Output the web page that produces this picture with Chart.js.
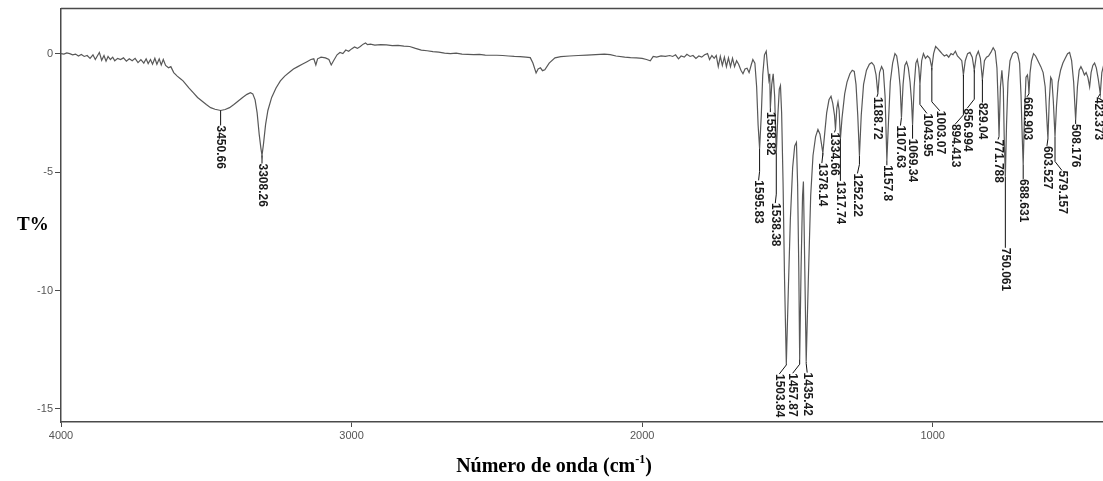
<!DOCTYPE html>
<html><head><meta charset="utf-8">
<script src="https://cdn.jsdelivr.net/npm/chart.js@4/dist/chart.umd.min.js"></script>
<style>html,body{margin:0;padding:0;background:#fff;overflow:hidden}canvas{display:block}</style>
</head><body>
<canvas id="c" width="1103" height="481"></canvas>
<script>
// ---- data ----
const wavenumbers = [
4000,3990,3980,3970,3960,3950,3940,3930,3920,3910,3900,3890,3882,3875,3868,3860,3852,3845,3838,3830,3822,3815,3805,3795,3785,3775,3765,3755,3745,3735,3725,3715,3707,3700,3692,3685,3677,3670,3662,3655,3648,3640,3630,3622,3612,3600,3590,3580,3570,3560,3545,3530,3515,3500,3485,3470,3450.66,3435,3420,3405,3390,3375,3360,3348,3340,3332,3325,3318,3312,3308.26,3303,3296,3288,3275,3260,3245,3230,3215,3200,3185,3170,3155,3140,3130,3123,3117,3105,3090,3078,3070,3062,3050,3040,3030,3020,3010,3000,2990,2980,2970,2960,2952,2945,2935,2920,2900,2880,2860,2840,2820,2800,2780,2760,2740,2720,2700,2680,2660,2640,2620,2600,2580,2560,2540,2520,2500,2480,2460,2440,2420,2400,2385,2376,2365,2358,2350,2343,2335,2320,2300,2280,2250,2220,2190,2160,2130,2110,2090,2060,2040,2020,2000,1985,1972,1962,1950,1935,1920,1905,1895,1885,1875,1866,1855,1846,1835,1825,1815,1805,1795,1785,1775,1768,1760,1752,1745,1738,1731,1724,1717,1710,1703,1696,1689,1682,1675,1668,1660,1653,1646,1639,1632,1624,1619,1612,1606,1601,1595.83,1590,1585,1579,1573,1568,1564,1561,1558.82,1554,1549,1544,1538.38,1533,1528,1524,1520,1515,1510,1503.84,1497,1490,1482,1475,1469,1465,1461,1457.87,1453,1448,1445,1441,1435.42,1428,1420,1412,1403,1395,1388,1383,1378.14,1372,1365,1357,1350,1344,1338,1334.66,1330,1326,1322,1317.74,1312,1303,1295,1285,1277,1270,1264,1258,1252.22,1246,1238,1228,1218,1210,1202,1195,1188.72,1183,1176,1170,1164,1157.8,1152,1146,1138,1130,1124,1118,1112,1107.63,1102,1096,1090,1084,1078,1073,1069.34,1064,1058,1053,1048,1043.95,1038,1032,1025,1018,1010,1003.07,997,990,982,975,968,960,952,945,937,930,922,915,907,900,894.413,888,880,872,864,856.994,850,843,836,829.04,822,815,808,800,792,785,779,775,771.788,767,762,757,754,750.061,746,741,734,725,716,708,701,696,692,688.631,684,679,674,671,668.903,665,660,653,646,638,628,620,613,608,603.527,599,594,590,585,579.157,574,568,560,552,544,536,529,522,515,508.176,502,496,490,484,478,472,466,460,455,449,443,437,430,423.373,418,412,405
];
const transmittance = [
0.00,-0.02,0.03,0.00,-0.05,-0.02,-0.10,-0.04,-0.12,-0.08,-0.20,-0.05,-0.25,-0.10,0.05,-0.28,-0.08,-0.32,-0.12,-0.25,-0.15,-0.30,-0.20,-0.25,-0.18,-0.32,-0.22,-0.30,-0.20,-0.38,-0.25,-0.40,-0.22,-0.42,-0.25,-0.45,-0.20,-0.45,-0.22,-0.48,-0.25,-0.50,-0.60,-0.55,-0.80,-0.95,-1.05,-1.15,-1.30,-1.45,-1.65,-1.85,-2.00,-2.15,-2.28,-2.35,-2.40,-2.36,-2.28,-2.15,-2.00,-1.85,-1.72,-1.65,-1.70,-1.95,-2.50,-3.40,-4.00,-4.30,-3.80,-3.00,-2.40,-1.85,-1.45,-1.15,-0.95,-0.80,-0.65,-0.55,-0.45,-0.35,-0.25,-0.22,-0.48,-0.22,-0.15,-0.18,-0.25,-0.48,-0.30,-0.05,0.05,0.00,0.15,0.10,0.20,0.28,0.22,0.30,0.40,0.45,0.38,0.40,0.36,0.38,0.37,0.34,0.35,0.32,0.30,0.22,0.15,0.12,0.08,0.06,0.02,0.00,0.02,-0.02,-0.03,-0.04,-0.03,-0.06,-0.07,-0.07,-0.08,-0.10,-0.12,-0.13,-0.15,-0.17,-0.40,-0.82,-0.65,-0.60,-0.72,-0.68,-0.40,-0.18,-0.13,-0.10,-0.08,-0.06,-0.04,-0.02,-0.04,-0.10,-0.15,-0.17,-0.18,-0.20,-0.25,-0.30,-0.12,-0.15,-0.10,-0.12,-0.08,-0.12,-0.05,-0.22,-0.10,-0.15,-0.03,-0.12,-0.08,-0.20,-0.10,-0.15,-0.05,0.00,-0.25,-0.08,-0.20,-0.08,-0.55,-0.12,-0.50,-0.15,-0.55,-0.18,-0.55,-0.20,-0.55,-0.30,-0.45,-0.70,-0.85,-0.65,-0.62,-0.80,-0.45,-0.25,-0.40,-1.40,-3.00,-4.00,-2.60,-0.90,-0.05,0.10,-0.60,-1.10,-0.85,-2.30,-1.30,-0.85,-1.80,-4.20,-2.60,-1.50,-1.35,-2.50,-5.50,-9.50,-13.10,-10.00,-7.00,-4.80,-3.90,-3.75,-5.50,-9.00,-12.90,-9.00,-6.00,-5.40,-8.50,-13.00,-9.50,-6.00,-4.30,-3.50,-3.20,-3.40,-3.80,-4.20,-3.40,-2.50,-1.95,-1.80,-2.10,-2.60,-3.20,-2.30,-2.05,-2.40,-3.60,-2.70,-1.70,-1.20,-0.85,-0.70,-0.75,-1.30,-2.60,-4.30,-2.60,-1.30,-0.70,-0.45,-0.38,-0.50,-0.90,-1.70,-0.80,-0.55,-0.70,-1.80,-4.50,-2.80,-1.20,-0.40,0.00,-0.10,-0.60,-1.40,-2.70,-1.30,-0.50,-0.35,-0.60,-1.20,-2.00,-3.00,-1.40,-0.40,-0.25,-0.60,-1.30,-0.30,0.00,-0.20,-0.10,-0.20,-0.60,0.00,0.30,0.20,0.10,0.00,-0.10,-0.05,-0.15,0.00,-0.05,0.10,-0.10,-0.20,-0.30,-0.90,-0.30,0.00,0.05,-0.15,-0.70,-0.10,0.10,-0.20,-1.10,-0.30,-0.15,-0.10,0.05,0.25,0.10,-0.60,-2.00,-3.50,-1.40,-0.70,-1.50,-3.50,-5.20,-3.00,-1.20,-0.30,0.00,0.08,0.00,-0.40,-1.80,-3.50,-4.70,-2.50,-1.00,-0.90,-1.20,-1.70,-0.80,-0.30,0.00,-0.10,-0.30,-0.55,-0.80,-1.40,-2.60,-3.60,-2.00,-1.00,-1.10,-2.00,-3.50,-2.20,-1.20,-0.70,-0.40,-0.20,0.00,0.05,-0.30,-1.20,-2.80,-1.40,-0.70,-0.55,-0.70,-0.90,-0.80,-1.00,-1.40,-0.80,-0.50,-0.40,-0.60,-1.10,-1.70,-0.80,-0.50,-0.40
];
const peakWavenumbers = [3450.66,3308.26,1595.83,1558.82,1538.38,1503.84,1457.87,1435.42,1378.14,1334.66,1317.74,1252.22,1188.72,1157.8,1107.63,1069.34,1043.95,1003.07,894.413,856.994,829.04,771.788,750.061,688.631,668.903,603.527,579.157,508.176,423.373];
const peakLabels = ["3450.66","3308.26","1595.83","1558.82","1538.38","1503.84","1457.87","1435.42","1378.14","1334.66","1317.74","1252.22","1188.72","1157.8","1107.63","1069.34","1043.95","1003.07","894.413","856.994","829.04","771.788","750.061","688.631","668.903","603.527","579.157","508.176","423.373"];
const xTickValues = [4000,3000,2000,1000];
const yTickValues = [0,-5,-10,-15];
const yAxisTitle = "T%";
const xAxisTitle = ["Número de onda (cm", "-1", ")"];

// ---- label layout (pixels): gap below the peak point and sideways shift ----
const labelGap   = [15,8,32,4,50,10,14,11,10,3,42,18,3,5,8,14,29,43,49,38,23,3,71,14,3,7,34,4,3];
const labelShift = [0,0,-1,0,-1,-7,-7,1,-1,-1,0,-2,-1,0,-1,0,7,8,-8,-7,0,-1,0,0,-2,-1,7,0,-2];

const axisColor = '#4a4a4a';
const tickFont = {family: "'Liberation Sans', Arial, sans-serif", size: 11};

const peakPlugin = {
  id: 'peaks',
  afterDraw(chart) {
    const ctx = chart.ctx, xs = chart.scales.x, ys = chart.scales.y, a = chart.chartArea;
    ctx.save();
    // top frame line
    ctx.strokeStyle = axisColor; ctx.lineWidth = 1.5;
    ctx.beginPath(); ctx.moveTo(a.left, a.top); ctx.lineTo(a.right, a.top); ctx.stroke();
    // peak leaders and labels
    ctx.font = "bold 12px 'Liberation Sans', Arial, sans-serif";
    ctx.fillStyle = '#1a1a1a';
    ctx.strokeStyle = '#111'; ctx.lineWidth = 1;
    peakWavenumbers.forEach((w, i) => {
      const idx = wavenumbers.indexOf(w);
      const px = xs.getPixelForValue(w);
      const py = ys.getPixelForValue(transmittance[idx]);
      const gap = labelGap[i], sh = labelShift[i];
      const lx = px + sh, ly = py + gap;
      ctx.beginPath();
      ctx.moveTo(px, py);
      if (sh !== 0) {
        const mid = py + Math.max(0, gap - 9);
        ctx.lineTo(px, mid);
        ctx.lineTo(lx, ly);
      } else {
        ctx.lineTo(lx, ly);
      }
      ctx.stroke();
      ctx.save();
      ctx.translate(lx, ly);
      ctx.rotate(Math.PI / 2);
      ctx.textAlign = 'left'; ctx.textBaseline = 'middle';
      ctx.fillText(peakLabels[i], 0, 0);
      ctx.restore();
    });
    // axis titles
    ctx.fillStyle = '#000';
    ctx.font = "bold 19px 'Liberation Serif', 'Times New Roman', serif";
    ctx.textAlign = 'left'; ctx.textBaseline = 'alphabetic';
    ctx.fillText(yAxisTitle, 17, 230);
    const big = "bold 20px 'Liberation Serif', 'Times New Roman', serif";
    const small = "bold 12px 'Liberation Serif', 'Times New Roman', serif";
    ctx.font = big; const w1 = ctx.measureText(xAxisTitle[0]).width;
    ctx.font = small; const w2 = ctx.measureText(xAxisTitle[1]).width;
    ctx.font = big; const w3 = ctx.measureText(xAxisTitle[2]).width;
    let x0 = 554 - (w1 + w2 + w3) / 2;
    const base = 472;
    ctx.font = big; ctx.fillText(xAxisTitle[0], x0, base);
    ctx.font = small; ctx.fillText(xAxisTitle[1], x0 + w1, base - 9);
    ctx.font = big; ctx.fillText(xAxisTitle[2], x0 + w1 + w2, base);
    ctx.restore();
  }
};

new Chart(document.getElementById('c'), {
  type: 'line',
  data: {
    datasets: [{
      data: wavenumbers.map((w, i) => ({x: w, y: transmittance[i]})),
      borderColor: '#585858',
      borderWidth: 1.2,
      pointRadius: 0,
      tension: 0,
      fill: false
    }]
  },
  options: {
    responsive: false,
    animation: false,
    devicePixelRatio: 1,
    layout: {padding: {top: 8, right: 0, left: 0, bottom: 0}},
    plugins: {legend: {display: false}, tooltip: {enabled: false}},
    scales: {
      x: {
        type: 'linear', reverse: true, min: 414, max: 4000,
        afterBuildTicks(s) { s.ticks = xTickValues.map(v => ({value: v})); },
        afterFit(s) { s.height = 59; },
        ticks: {font: tickFont, color: '#555', padding: 2, maxRotation: 0, autoSkip: false, callback: v => String(v)},
        grid: {display: true, drawOnChartArea: false, drawTicks: true, tickLength: 5, color: axisColor},
        border: {display: true, color: axisColor, width: 1.5}
      },
      y: {
        type: 'linear', min: -15.55, max: 1.9,
        afterBuildTicks(s) { s.ticks = yTickValues.map(v => ({value: v})); },
        afterFit(s) { s.width = 61; },
        ticks: {font: tickFont, color: '#555', padding: 2, autoSkip: false, callback: v => String(v)},
        grid: {display: true, drawOnChartArea: false, drawTicks: true, tickLength: 6, color: axisColor},
        border: {display: true, color: axisColor, width: 1.5}
      }
    }
  },
  plugins: [peakPlugin]
});
</script>
</body></html>
